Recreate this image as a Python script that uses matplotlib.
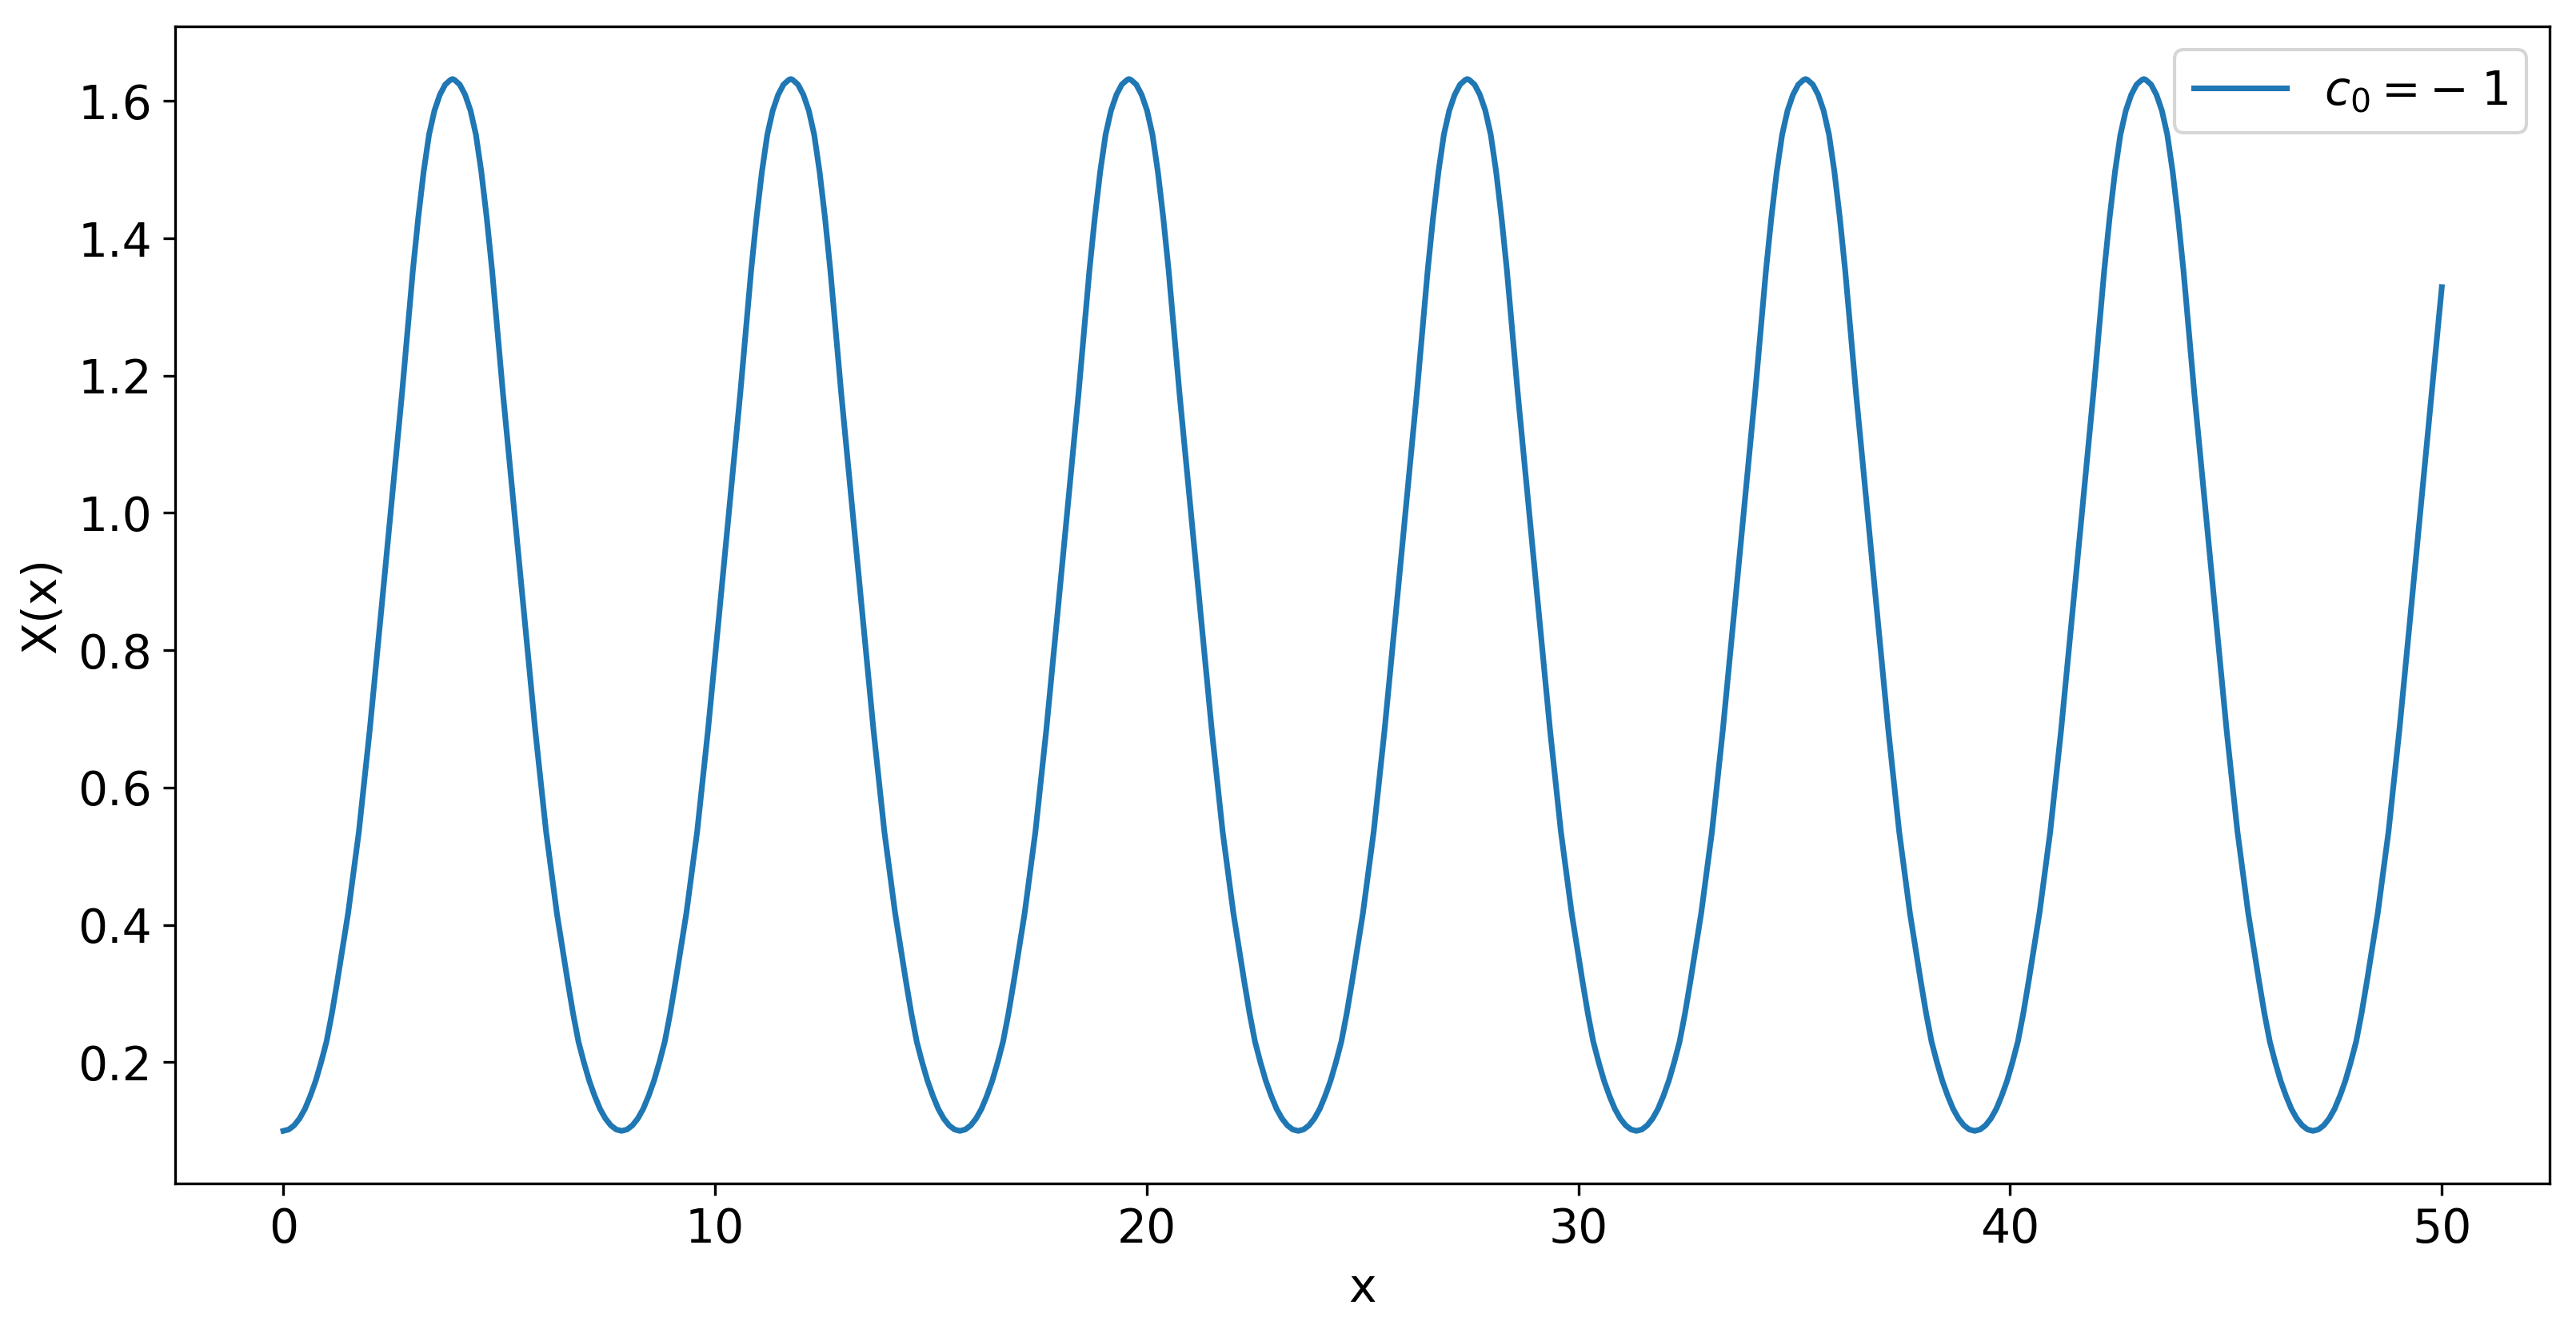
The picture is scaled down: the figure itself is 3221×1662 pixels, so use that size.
import matplotlib
matplotlib.use("Agg")
import matplotlib.pyplot as plt

# Значения кривой X(x) (по одному полупериоду на строку)
x_values = [
    0.000, 0.125, 0.250, 0.375, 0.500, 0.625, 0.750, 0.875, 1.000, 1.125, 1.250, 1.500, 1.750, 2.000, 2.250, 2.500, 2.750, 3.000, 3.125, 3.250, 3.375, 3.500, 3.625, 3.750, 3.875, 3.918,
    3.961, 4.086, 4.211, 4.336, 4.461, 4.586, 4.711, 4.836, 5.086, 5.336, 5.586, 5.836, 6.086, 6.336, 6.586, 6.711, 6.836, 6.961, 7.086, 7.211, 7.336, 7.461, 7.586, 7.711,
    7.836, 7.961, 8.086, 8.211, 8.336, 8.461, 8.586, 8.711, 8.836, 8.961, 9.086, 9.336, 9.586, 9.836, 10.086, 10.336, 10.586, 10.836, 10.961, 11.086, 11.211, 11.336, 11.461, 11.586, 11.711, 11.754,
    11.797, 11.922, 12.047, 12.172, 12.297, 12.422, 12.547, 12.672, 12.922, 13.172, 13.422, 13.672, 13.922, 14.172, 14.422, 14.547, 14.672, 14.797, 14.922, 15.047, 15.172, 15.297, 15.422, 15.547,
    15.672, 15.797, 15.922, 16.047, 16.172, 16.297, 16.422, 16.547, 16.672, 16.797, 16.922, 17.172, 17.422, 17.672, 17.922, 18.172, 18.422, 18.672, 18.797, 18.922, 19.047, 19.172, 19.297, 19.422, 19.547, 19.590,
    19.633, 19.758, 19.883, 20.008, 20.133, 20.258, 20.383, 20.508, 20.758, 21.008, 21.258, 21.508, 21.758, 22.008, 22.258, 22.383, 22.508, 22.633, 22.758, 22.883, 23.008, 23.133, 23.258, 23.383,
    23.508, 23.633, 23.758, 23.883, 24.008, 24.133, 24.258, 24.383, 24.508, 24.633, 24.758, 25.008, 25.258, 25.508, 25.758, 26.008, 26.258, 26.508, 26.633, 26.758, 26.883, 27.008, 27.133, 27.258, 27.383, 27.426,
    27.469, 27.594, 27.719, 27.844, 27.969, 28.094, 28.219, 28.344, 28.594, 28.844, 29.094, 29.344, 29.594, 29.844, 30.094, 30.219, 30.344, 30.469, 30.594, 30.719, 30.844, 30.969, 31.094, 31.219,
    31.344, 31.469, 31.594, 31.719, 31.844, 31.969, 32.094, 32.219, 32.344, 32.469, 32.594, 32.844, 33.094, 33.344, 33.594, 33.844, 34.094, 34.344, 34.469, 34.594, 34.719, 34.844, 34.969, 35.094, 35.219, 35.262,
    35.305, 35.430, 35.555, 35.680, 35.805, 35.930, 36.055, 36.180, 36.430, 36.680, 36.930, 37.180, 37.430, 37.680, 37.930, 38.055, 38.180, 38.305, 38.430, 38.555, 38.680, 38.805, 38.930, 39.055,
    39.180, 39.305, 39.430, 39.555, 39.680, 39.805, 39.930, 40.055, 40.180, 40.305, 40.430, 40.680, 40.930, 41.180, 41.430, 41.680, 41.930, 42.180, 42.305, 42.430, 42.555, 42.680, 42.805, 42.930, 43.055, 43.098,
    43.141, 43.266, 43.391, 43.516, 43.641, 43.766, 43.891, 44.016, 44.266, 44.516, 44.766, 45.016, 45.266, 45.516, 45.766, 45.891, 46.016, 46.141, 46.266, 46.391, 46.516, 46.641, 46.766, 46.891,
    47.016, 47.141, 47.266, 47.391, 47.516, 47.641, 47.766, 47.891, 48.016, 48.141, 48.266, 48.516, 48.766, 49.016, 49.266, 49.516, 49.766, 50.000,
]

X_values = [
    0.100, 0.102, 0.108, 0.118, 0.132, 0.151, 0.173, 0.200, 0.230, 0.271, 0.318, 0.417, 0.536, 0.683, 0.846, 1.011, 1.175, 1.353, 1.430, 1.497, 1.551, 1.586, 1.609, 1.624, 1.631, 1.632,
    1.631, 1.624, 1.609, 1.586, 1.551, 1.497, 1.430, 1.353, 1.175, 1.011, 0.846, 0.683, 0.536, 0.417, 0.318, 0.271, 0.230, 0.200, 0.173, 0.151, 0.132, 0.118, 0.108, 0.102,
    0.100, 0.102, 0.108, 0.118, 0.132, 0.151, 0.173, 0.200, 0.230, 0.271, 0.318, 0.417, 0.536, 0.683, 0.846, 1.011, 1.175, 1.353, 1.430, 1.497, 1.551, 1.586, 1.609, 1.624, 1.631, 1.632,
    1.631, 1.624, 1.609, 1.586, 1.551, 1.497, 1.430, 1.353, 1.175, 1.011, 0.846, 0.683, 0.536, 0.417, 0.318, 0.271, 0.230, 0.200, 0.173, 0.151, 0.132, 0.118, 0.108, 0.102,
    0.100, 0.102, 0.108, 0.118, 0.132, 0.151, 0.173, 0.200, 0.230, 0.271, 0.318, 0.417, 0.536, 0.683, 0.846, 1.011, 1.175, 1.353, 1.430, 1.497, 1.551, 1.586, 1.609, 1.624, 1.631, 1.632,
    1.631, 1.624, 1.609, 1.586, 1.551, 1.497, 1.430, 1.353, 1.175, 1.011, 0.846, 0.683, 0.536, 0.417, 0.318, 0.271, 0.230, 0.200, 0.173, 0.151, 0.132, 0.118, 0.108, 0.102,
    0.100, 0.102, 0.108, 0.118, 0.132, 0.151, 0.173, 0.200, 0.230, 0.271, 0.318, 0.417, 0.536, 0.683, 0.846, 1.011, 1.175, 1.353, 1.430, 1.497, 1.551, 1.586, 1.609, 1.624, 1.631, 1.632,
    1.631, 1.624, 1.609, 1.586, 1.551, 1.497, 1.430, 1.353, 1.175, 1.011, 0.846, 0.683, 0.536, 0.417, 0.318, 0.271, 0.230, 0.200, 0.173, 0.151, 0.132, 0.118, 0.108, 0.102,
    0.100, 0.102, 0.108, 0.118, 0.132, 0.151, 0.173, 0.200, 0.230, 0.271, 0.318, 0.417, 0.536, 0.683, 0.846, 1.011, 1.175, 1.353, 1.430, 1.497, 1.551, 1.586, 1.609, 1.624, 1.631, 1.632,
    1.631, 1.624, 1.609, 1.586, 1.551, 1.497, 1.430, 1.353, 1.175, 1.011, 0.846, 0.683, 0.536, 0.417, 0.318, 0.271, 0.230, 0.200, 0.173, 0.151, 0.132, 0.118, 0.108, 0.102,
    0.100, 0.102, 0.108, 0.118, 0.132, 0.151, 0.173, 0.200, 0.230, 0.271, 0.318, 0.417, 0.536, 0.683, 0.846, 1.011, 1.175, 1.353, 1.430, 1.497, 1.551, 1.586, 1.609, 1.624, 1.631, 1.632,
    1.631, 1.624, 1.609, 1.586, 1.551, 1.497, 1.430, 1.353, 1.175, 1.011, 0.846, 0.683, 0.536, 0.417, 0.318, 0.271, 0.230, 0.200, 0.173, 0.151, 0.132, 0.118, 0.108, 0.102,
    0.100, 0.102, 0.108, 0.118, 0.132, 0.151, 0.173, 0.200, 0.230, 0.271, 0.318, 0.417, 0.536, 0.683, 0.846, 1.011, 1.175, 1.329,
]

series_label = r'$c_0 = -\;1$'


def main():
    plt.rcParams['font.size'] = 14

    fig = plt.figure(figsize=(3221 / 300, 1662 / 300), dpi=300)
    ax = fig.add_axes([0.0681, 0.1095, 0.9217, 0.8706])

    ax.plot(x_values, X_values, color='#1f77b4', linewidth=1.7, label=series_label)

    ax.set_xlabel('x')
    ax.set_ylabel('X(x)')
    ax.legend(loc='upper right')

    fig.savefig('out.png', dpi=300)


if __name__ == '__main__':
    main()
